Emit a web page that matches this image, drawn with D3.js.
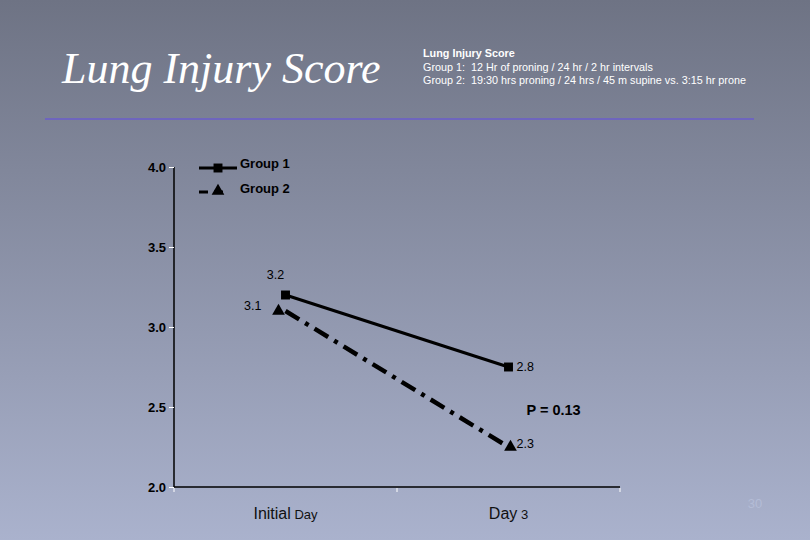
<!DOCTYPE html>
<html>
<head>
<meta charset="utf-8">
<script src="https://cdn.jsdelivr.net/npm/d3@7"></script>
<style>
  body { margin: 0; padding: 0; overflow: hidden; }
  svg { display: block; }
</style>
</head>
<body>
<div id="chart"></div>
<script>
// chart values
var DAYS = ['Initial', 'Day3'];
var DAY_LABELS = [['Initial', ' Day'], ['Day', ' 3']];
var GROUP1 = [3.2, 2.75];
var GROUP2 = [3.1, 2.25];
var GROUP1_LABELS = ['3.2', '2.8'];
var GROUP2_LABELS = ['3.1', '2.3'];
var Y_TICKS = [2.0, 2.5, 3.0, 3.5, 4.0];
var SUBTITLE = ['Lung Injury Score',
                'Group 1:  12 Hr of proning / 24 hr / 2 hr intervals',
                'Group 2:  19:30 hrs proning / 24 hrs / 45 m supine vs. 3:15 hr prone'];

var width = 810, height = 540;
var margin = {top: 167, right: 190, bottom: 53, left: 174};
var SANS = '"Liberation Sans", Arial, sans-serif';

var svg = d3.select('#chart').append('svg')
  .attr('width', width)
  .attr('height', height);

// slide background gradient
var grad = svg.append('defs').append('linearGradient')
  .attr('id', 'bg').attr('x1', 0).attr('y1', 0).attr('x2', 0).attr('y2', 1);
grad.append('stop').attr('offset', '0%').attr('stop-color', '#6e7384');
grad.append('stop').attr('offset', '100%').attr('stop-color', '#aab2cd');
svg.append('rect').attr('width', width).attr('height', height).attr('fill', 'url(#bg)');

// title + rule
svg.append('text')
  .attr('x', 62).attr('y', 83)
  .style('font-family', '"Liberation Serif", "Times New Roman", serif')
  .style('font-style', 'italic')
  .style('font-size', '44px')
  .style('fill', '#ffffff')
  .text('Lung Injury Score');

svg.append('line')
  .attr('x1', 45).attr('x2', 754).attr('y1', 119).attr('y2', 119)
  .style('stroke', '#6a5ccc').style('stroke-width', 1.5);

svg.selectAll('.sub')
  .data(SUBTITLE).enter()
  .append('text')
    .attr('x', 423)
    .attr('y', function(d, i) { return 57 + i * 13.5; })
    .style('font-family', SANS)
    .style('font-size', '10.8px')
    .style('font-weight', function(d, i) { return i === 0 ? 'bold' : 'normal'; })
    .style('fill', '#ffffff')
    .attr('xml:space', 'preserve')
    .text(function(d) { return d; });

var w = width - margin.left - margin.right;
var h = height - margin.top - margin.bottom;
var g = svg.append('g').attr('transform', 'translate(' + margin.left + ',' + margin.top + ')');

var x = d3.scaleBand().domain(DAYS).range([0, w]);
var y = d3.scaleLinear().domain([2, 4]).range([h, 0]);

// y axis
var yAxis = g.append('g')
  .call(d3.axisLeft(y).tickValues(Y_TICKS).tickFormat(d3.format('.1f')).tickSize(5).tickPadding(3));
yAxis.select('.domain').attr('d', 'M0,0V' + h).style('stroke', '#000').style('stroke-width', 1.5);
yAxis.selectAll('.tick line').style('stroke', '#fff');
yAxis.selectAll('.tick text')
  .style('font-family', SANS)
  .style('font-size', '13px').style('font-weight', 'bold').style('fill', '#000');

// x axis: ticks at band edges
var xAxis = g.append('g').attr('transform', 'translate(0,' + h + ')');
xAxis.append('line').attr('x1', 0).attr('x2', w).style('stroke', '#000').style('stroke-width', 1.5);
xAxis.selectAll('.xt')
  .data([0, x.bandwidth(), w]).enter()
  .append('line')
    .attr('x1', function(d) { return d; }).attr('x2', function(d) { return d; })
    .attr('y1', 1).attr('y2', 5)
    .style('stroke', '#fff');
var xl = xAxis.selectAll('.xl')
  .data(DAY_LABELS).enter()
  .append('text')
    .attr('x', function(d, i) { return x(DAYS[i]) + x.bandwidth() / 2; })
    .attr('y', 32)
    .attr('text-anchor', 'middle')
    .attr('xml:space', 'preserve')
    .style('font-family', SANS)
    .style('fill', '#111');
xl.append('tspan').style('font-size', '16px').text(function(d) { return d[0]; });
xl.append('tspan').style('font-size', '13px').text(function(d) { return d[1]; });

function cx(i) { return x(DAYS[i]) + x.bandwidth() / 2; }
var line = d3.line().x(function(d, i) { return cx(i); }).y(function(d) { return y(d); });

g.append('path').datum(GROUP1).attr('d', line)
  .style('fill', 'none').style('stroke', '#000').style('stroke-width', 3);
g.append('path').datum(GROUP2).attr('d', line)
  .style('fill', 'none').style('stroke', '#000').style('stroke-width', 4.5)
  .style('stroke-dasharray', '16,7,4,7');

var sq = d3.symbol().type(d3.symbolSquare).size(80);
var tri = d3.symbol().type(d3.symbolTriangle).size(70);

g.selectAll('.m1').data(GROUP1).enter().append('path')
  .attr('d', sq)
  .attr('transform', function(d, i) { return 'translate(' + cx(i) + ',' + y(d) + ')'; })
  .style('fill', '#000');
g.selectAll('.m2').data(GROUP2).enter().append('path')
  .attr('d', tri)
  .attr('transform', function(d, i) { return 'translate(' + (cx(i) + (i === 0 ? -7 : 2)) + ',' + y(d) + ')'; })
  .style('fill', '#000');

var lblStyle = function(sel) {
  sel.style('font-family', SANS)
     .style('font-size', '12.5px').style('fill', '#000');
};
// group 1 labels: above first point, right of second
g.append('text').attr('x', cx(0) - 10).attr('y', y(GROUP1[0]) - 16)
  .attr('text-anchor', 'middle').text(GROUP1_LABELS[0]).call(lblStyle);
g.append('text').attr('x', cx(1) + 8).attr('y', y(GROUP1[1]) + 4)
  .text(GROUP1_LABELS[1]).call(lblStyle);
// group 2 labels: left of first point, right of second
g.append('text').attr('x', cx(0) - 24).attr('y', y(GROUP2[0]) - 1)
  .attr('text-anchor', 'end').text(GROUP2_LABELS[0]).call(lblStyle);
g.append('text').attr('x', cx(1) + 8).attr('y', y(GROUP2[1]) + 1)
  .text(GROUP2_LABELS[1]).call(lblStyle);

g.append('text').attr('x', cx(1) + 18).attr('y', y(2.5) + 8)
  .style('font-family', SANS)
  .style('font-size', '14.5px').style('font-weight', 'bold').style('fill', '#000')
  .text('P = 0.13');

// legend
var legend = svg.append('g').attr('transform', 'translate(199,168)');
legend.append('line').attr('x1', 0).attr('x2', 38).style('stroke', '#000').style('stroke-width', 3);
legend.append('path').attr('d', sq).attr('transform', 'translate(19,0)').style('fill', '#000');
legend.append('text').attr('x', 41).attr('y', 0)
  .style('font-family', SANS)
  .style('font-size', '13px').style('font-weight', 'bold').style('fill', '#000')
  .text('Group 1');
var lg2 = legend.append('g').attr('transform', 'translate(0,24)');
lg2.append('line').attr('x1', 0).attr('x2', 38).style('stroke', '#000').style('stroke-width', 3)
  .style('stroke-dasharray', '9,6,9,100');
lg2.append('path').attr('d', tri).attr('transform', 'translate(19,-1)').style('fill', '#000');
legend.append('text').attr('x', 41).attr('y', 25)
  .style('font-family', SANS)
  .style('font-size', '13px').style('font-weight', 'bold').style('fill', '#000')
  .text('Group 2');

// slide number
svg.append('text').attr('x', 755).attr('y', 508)
  .attr('text-anchor', 'middle')
  .style('font-family', SANS)
  .style('font-size', '13px').style('fill', '#b4bcd6')
  .text('30');
</script>
</body>
</html>
